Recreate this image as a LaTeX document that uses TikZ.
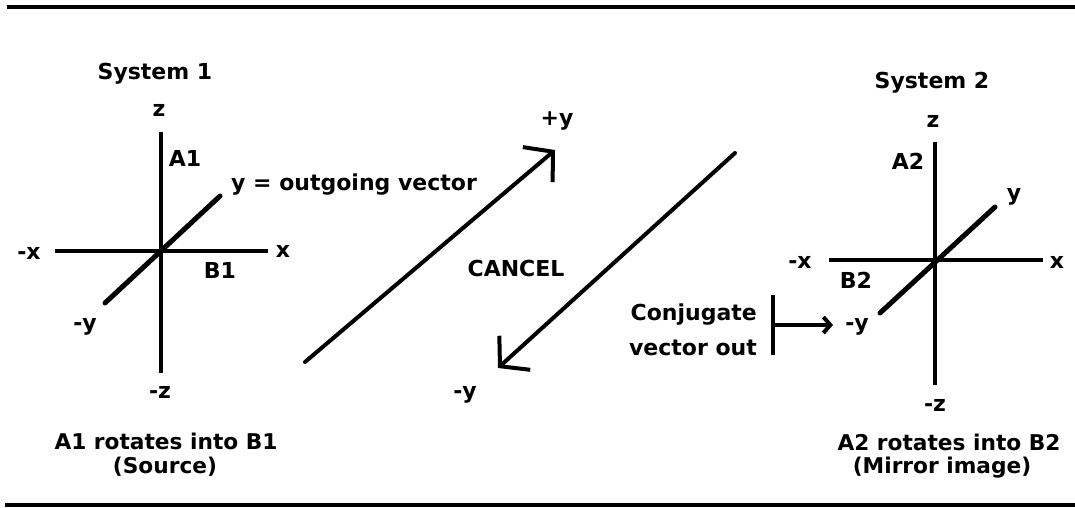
\documentclass[tikz,border=0pt]{standalone}
\usepackage{fontspec}
\setmainfont{DejaVu Sans}
\usetikzlibrary{arrows.meta}
\begin{document}
\begin{tikzpicture}[x=1pt,y=-1pt,
  lbl/.style={inner sep=0pt,font=\fontsize{22}{26}\selectfont\bfseries},
  captxt/.style={inner sep=0pt,font=\fontsize{21.7}{26}\selectfont\bfseries},
  axis/.style={line width=4pt},
  diag/.style={line width=5pt,line cap=round},
  vec/.style={line width=4pt,line cap=round,-{Straight Barb[length=20pt,width=46pt,line width=4pt]}},
  rule/.style={line width=4pt}]
\useasboundingbox (0,0) rectangle (1075,508);
% rules
\coordinate (tl) at (7,7.5); \coordinate (tr) at (1075,7.5);
\coordinate (bl) at (5,504.5); \coordinate (br) at (1075,504.5);
\draw[rule] (tl) -- (tr);
\draw[rule] (bl) -- (br);
% System 1
\node[lbl] (s1) at (155,74) {System 1};
\coordinate (z1t) at (161,132); \coordinate (z1b) at (161,373);
\coordinate (x1l) at (55,251); \coordinate (x1r) at (268,251);
\coordinate (y1a) at (105,303); \coordinate (y1b) at (220,196);
\draw[axis] (z1t) -- (z1b);
\draw[axis] (x1l) -- (x1r);
\draw[diag] (y1a) -- (y1b);
\node[lbl] (z1) at (159,110) {z};
\node[lbl] (mz1) at (160,392) {-z};
\node[lbl] (a1) at (185,158) {A1};
\node[lbl,anchor=west] (yout) at (231,185) {y = outgoing vector};
\node[lbl] (mx1) at (29,253) {-x};
\node[lbl] (px1) at (283,251) {x};
\node[lbl] (b1) at (220,270) {B1};
\node[lbl] (my1) at (85,327) {-y};
% middle
\coordinate (v1a) at (305,362); \coordinate (v1b) at (555,150);
\coordinate (v2a) at (735,153); \coordinate (v2b) at (498,368);
\draw[vec] (v1a) -- (v1b);
\draw[vec] (v2a) -- (v2b);
\node[lbl] (py) at (557,121) {+y};
\node[lbl] (myc) at (465,395) {-y};
\node[lbl] (cancel) at (516,268) {CANCEL};
\node[lbl,anchor=base east] (conj) at (757,320) {Conjugate};
\node[lbl,anchor=base east] (vout) at (757,355) {vector out};
\coordinate (bart) at (773,295); \coordinate (barb) at (773,355);
\coordinate (barm) at (773,325); \coordinate (bare) at (833,325);
\draw[axis] (bart) -- (barb);
\draw[line width=3.5pt,-{Straight Barb[length=7pt,width=16pt,line width=4pt]}] (barm) -- (bare);
% System 2
\node[lbl] (s2) at (932,83) {System 2};
\coordinate (z2t) at (935,142); \coordinate (z2b) at (935,385);
\coordinate (x2l) at (829,260); \coordinate (x2r) at (1043,260);
\coordinate (y2a) at (880,313); \coordinate (y2b) at (995,207);
\draw[axis] (z2t) -- (z2b);
\draw[axis] (x2l) -- (x2r);
\draw[diag] (y2a) -- (y2b);
\node[lbl] (z2) at (933,121) {z};
\node[lbl] (mz2) at (935,405) {-z};
\node[lbl] (a2) at (908,161) {A2};
\node[lbl] (py2) at (1014,197) {y};
\node[lbl] (mx2) at (800,262) {-x};
\node[lbl] (px2) at (1057,262) {x};
\node[lbl] (b2) at (856,280) {B2};
\node[lbl] (my2) at (857,327) {-y};
% captions
\node[captxt] (c1a) at (166,441) {A1 rotates into B1};
\node[captxt] (c1b) at (165,467) {(Source)};
\node[captxt] (c2a) at (949,442) {A2 rotates into B2};
\node[captxt] (c2b) at (942,468) {(Mirror image)};
\end{tikzpicture}
\end{document}
